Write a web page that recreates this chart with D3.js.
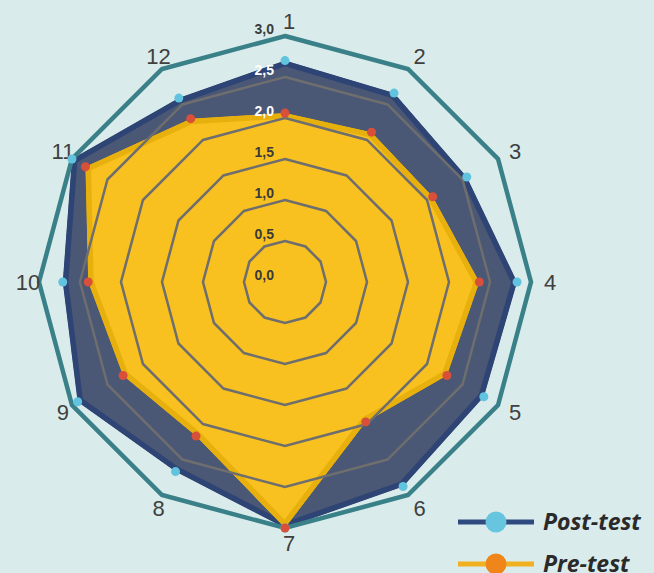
<!DOCTYPE html>
<html>
<head>
<meta charset="utf-8">
<script src="https://cdn.jsdelivr.net/npm/d3@7"></script>
<style>
  html, body { margin: 0; padding: 0; background: #d9eceb; }
  svg { display: block; }
</style>
</head>
<body>
<script>
const categories = ["1", "2", "3", "4", "5", "6", "7", "8", "9", "10", "11", "12"];
const postTest = [2.70, 2.66, 2.56, 2.83, 2.80, 2.88, 3.0, 2.67, 2.92, 2.71, 3.0, 2.59];
const preTest = [2.06, 2.11, 2.08, 2.37, 2.28, 1.97, 3.0, 2.17, 2.28, 2.40, 2.81, 2.30];
const ticks = [0, 0.5, 1.0, 1.5, 2.0, 2.5, 3.0];
const tickLabels = ["0,0", "0,5", "1,0", "1,5", "2,0", "2,5", "3,0"];
const legendItems = ["Post-test", "Pre-test"];

const width = 654;
const height = 573;
const cx = 285;
const cy = 282;

const svg = d3.select("body").append("svg")
  .attr("width", width)
  .attr("height", height);

svg.append("rect").attr("width", width).attr("height", height).attr("fill", "#d9eceb");

const r = d3.scaleLinear().domain([0, 3]).range([0, 246]);
const angle = d3.scalePoint().domain(categories).range([0, 2 * Math.PI * 11 / 12]);

const g = svg.append("g").attr("transform", `translate(${cx},${cy})`);

const radar = d3.lineRadial()
  .angle((d, i) => angle(categories[i]))
  .radius(d => r(d))
  .curve(d3.curveLinearClosed);

// series areas: band stroke clipped inside, lighter fill
const series = [
  { name: "post", values: postTest, band: "#2e4475", fill: "#4a5775" },
  { name: "pre", values: preTest, band: "#e8b00c", fill: "#f9c11f" }
];

const defs = svg.append("defs");
series.forEach(s => {
  defs.append("clipPath").attr("id", "clip-" + s.name)
    .append("path").attr("d", radar(s.values));
  g.append("path")
    .attr("d", radar(s.values))
    .attr("fill", s.fill)
    .attr("stroke", s.band)
    .attr("stroke-width", 11)
    .attr("stroke-linejoin", "miter")
    .attr("clip-path", `url(#clip-${s.name})`);
});

// grid rings
g.selectAll(".ring")
  .data(ticks.filter(t => t > 0))
  .join("path")
  .attr("class", "ring")
  .attr("d", t => radar(categories.map(() => t)))
  .attr("fill", "none")
  .attr("stroke", t => t === 3 ? "#3a8088" : "#6e6e6e")
  .attr("stroke-width", t => t === 3 ? 4.5 : 2.5)
  .attr("stroke-linejoin", "miter");

// tick labels
g.selectAll(".tick")
  .data(ticks)
  .join("text")
  .attr("class", "tick")
  .attr("x", -11)
  .attr("y", t => -r(t) - 2)
  .attr("text-anchor", "end")
  .attr("font-family", "Liberation Sans, Arial, sans-serif")
  .attr("font-weight", "bold")
  .attr("font-size", 14)
  .attr("fill", t => (t === 2 || t === 2.5) ? "#ffffff" : "#3a3a3a")
  .text((t, i) => tickLabels[i]);

// axis labels
g.selectAll(".cat")
  .data(categories)
  .join("text")
  .attr("class", "cat")
  .attr("x", d => Math.sin(angle(d)) * 261 + 4)
  .attr("y", d => -Math.cos(angle(d)) * 261)
  .attr("dy", "0.36em")
  .attr("text-anchor", "middle")
  .attr("font-family", "Liberation Sans, Arial, sans-serif")
  .attr("font-size", 22)
  .attr("fill", "#404040")
  .text(d => d);

// dots
const dotSeries = [
  { values: postTest, color: "#62c3df" },
  { values: preTest, color: "#d9503a" }
];
dotSeries.forEach(s => {
  g.append("g").selectAll("circle")
    .data(s.values)
    .join("circle")
    .attr("cx", (d, i) => Math.sin(angle(categories[i])) * r(d))
    .attr("cy", (d, i) => -Math.cos(angle(categories[i])) * r(d))
    .attr("r", 4.5)
    .attr("fill", s.color);
});

// legend
const legendStyles = [
  { line: "#2f4a7e", dot: "#68c5e0" },
  { line: "#f0b020", dot: "#f0861a" }
];
const legend = svg.append("g").attr("transform", "translate(458,522)");
legendItems.forEach((name, i) => {
  const row = legend.append("g").attr("transform", `translate(0,${i * 42})`);
  row.append("line")
    .attr("x1", 0).attr("x2", 76)
    .attr("stroke", legendStyles[i].line)
    .attr("stroke-width", 5);
  row.append("circle")
    .attr("cx", 38).attr("r", 10.5)
    .attr("fill", legendStyles[i].dot);
  row.append("text")
    .attr("x", 85)
    .attr("dy", "0.35em")
    .attr("font-family", "Open Sans, sans-serif")
    .attr("font-weight", "bold")
    .attr("font-style", "italic")
    .attr("font-size", 23)
    .attr("fill", "#2a2a2a")
    .text(name);
});
</script>
</body>
</html>
